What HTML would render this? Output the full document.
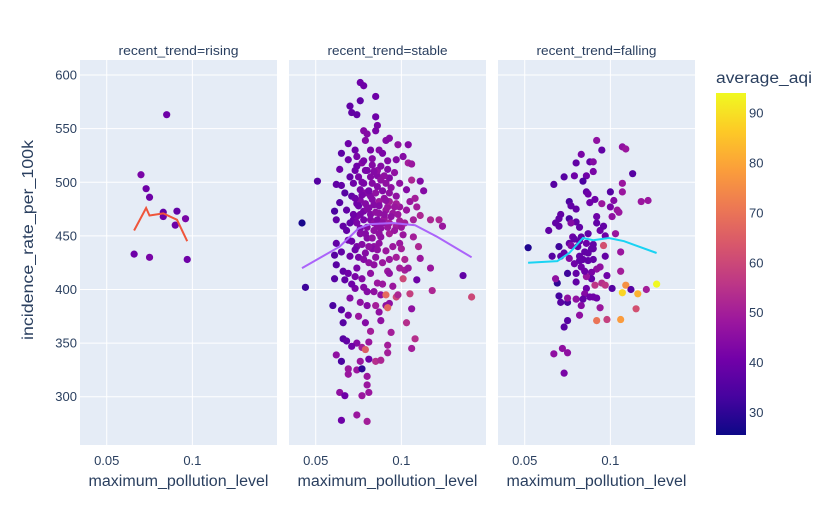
<!DOCTYPE html>
<html><head><meta charset="utf-8">
<style>
html,body{margin:0;padding:0;background:#fff;}
svg{display:block;font-family:"Liberation Sans",Arial,sans-serif;}
</style></head>
<body>
<svg id="chart" width="823" height="525" xmlns="http://www.w3.org/2000/svg">
<defs>
<linearGradient id="plasma" x1="0" y1="1" x2="0" y2="0">
<stop offset="0" stop-color="#0d0887"/><stop offset="0.111" stop-color="#46039f"/><stop offset="0.222" stop-color="#7201a8"/><stop offset="0.333" stop-color="#9c179e"/><stop offset="0.444" stop-color="#bd3786"/><stop offset="0.556" stop-color="#d8576b"/><stop offset="0.667" stop-color="#ed7953"/><stop offset="0.778" stop-color="#fb9f3a"/><stop offset="0.889" stop-color="#fdca26"/><stop offset="1" stop-color="#f0f921"/>
</linearGradient>
</defs>
</svg>
<script>
// ---- data ----
const panelTitles = ["recent_trend=rising","recent_trend=stable","recent_trend=falling"];
const yTicks = [300,350,400,450,500,550,600];
const xTicks = [0.05,0.1];
const xTickLabels = ["0.05","0.1"];
const cbTicks = [30,40,50,60,70,80,90];

const risingX = [.066,.070,.073,.075,.075,.085,.083,.083,.090,.091,.096,.097];
const risingY = [433,507,494,486,430,563,472,468,460,473,466,428];
const risingAqi = [40,42,40,40,42,40,38,40,40,38,42,40];
const risingLineX = [.066,.073,.075,.083,.091,.097];
const risingLineY = [455,476,469,471,465,445];

const stableX = [.076,.078,.085,.076,.070,.071,.074,.085,.086,.078,.085,.080,.069,.079,.091,.093,.098,.104,.065,.073,.082,.087,.089,.069,.101,.097,.104,.106,.064,.073,.080,.092,.096,.051,.062,.065,.072,.082,.086,.093,.099,.106,.111,.067,.076,.086,.093,.103,.113,.071,.082,.090,.097,.105,.108,.064,.074,.084,.092,.099,.109,.061,.068,.078,.087,.095,.103,.111,.062,.072,.082,.090,.099,.107,.117,.122,.124,.042,.066,.076,.086,.093,.101,.107,.110,.062,.069,.080,.088,.099,.084,.074,
.074,.077,.079,.083,.086,.075,.078,.083,.088,.091,.076,.079,.087,.093,.097,.081,.091,.074,.084,.093,.097,
.061,.065,.070,.062,.066,.074,.084,.092,.102,.104,.111,.117,.136,.044,.061,.067,.077,.086,.093,.101,.109,.073,.080,.088,.097,.105,.118,.141,.060,.070,.076,.080,.085,.093,.106,.065,.069,.075,.087,.066,.079,.088,.103,.082,.094,.066,.068,.074,.081,.092,.108,.106,.071,.077,.079,.092,.062,.065,.076,.081,.085,.088,.069,.074,.077,.069,.080,.080,.081,.064,.067,.077,.074,.065,.080,.091,.091,.098,.092,
.072,.074,.076,.078,.080,.082,.084,.086,.088,.090,.092,.094,.096,.098,.100,.102,
.073,.075,.077,.079,.081,.083,.085,.087,.089,.091,.094,.096,
.071,.073,.075,.077,.079,.081,.083,.085,.087,.089,.091,.093,.095,.097,.100,.102,
.068,.070,.069,.071,.073,.078,.082,.084,.089,.095,.099,
.070,.074,.078,.083,.088,.092,.077,.084,.090,
.076,.080,.085,.089,.079,.083,.087,.081,.086,.078];
const stableY = [593,590,580,576,571,565,563,561,553,548,548,545,536,539,539,541,535,535,527,530,530,530,527,521,524,521,518,517,512,511,511,512,509,501,498,497,499,505,506,504,499,502,501,490,493,496,490,493,492,487,487,485,487,482,485,481,480,479,477,477,477,473,474,473,471,471,474,469,465,465,465,466,464,465,465,465,459,462,459,457,459,452,451,449,440,443,446,448,449,443,440,440,
524,518,511,516,511,505,499,499,502,499,483,490,482,482,480,476,474,468,462,462,459,
432,435,431,423,417,420,423,417,418,420,429,420,413,402,410,409,410,406,415,410,409,401,398,395,393,396,399,393,385,392,388,385,385,387,382,381,376,375,379,369,369,371,369,361,360,354,352,350,351,348,354,345,347,346,344,341,339,333,333,335,333,334,326,325,326,321,319,311,304,304,301,301,283,278,277,395,385,395,383,
470,462,452,465,458,470,455,465,457,470,458,468,455,470,458,462,
485,478,488,480,492,484,490,478,492,483,495,477,
445,437,430,442,434,425,438,430,443,425,436,428,440,430,438,428,
455,462,415,405,412,402,415,398,405,403,420,
505,515,520,522,515,520,500,510,506,
470,475,472,462,452,448,452,440,437,428];
const stableAqi = [40,40,40,38,38,38,38,40,42,44,42,44,40,44,44,44,46,44,37,40,42,44,42,40,44,44,50,48,40,40,42,44,46,36,38,38,40,44,44,44,46,52,44,36,42,44,46,44,44,38,44,46,46,48,50,36,40,44,48,48,50,34,38,42,46,48,48,52,38,40,44,48,50,50,52,52,48,27,38,42,46,50,48,50,52,38,40,44,46,48,46,42,
42,44,42,44,46,42,42,44,46,46,44,44,48,50,50,44,48,42,46,50,50,
36,38,40,36,38,42,46,48,50,48,48,48,38,32,36,38,44,48,46,60,40,42,44,46,60,58,52,60,34,44,46,44,50,46,46,36,42,48,46,36,44,46,54,50,50,36,38,44,48,50,54,50,40,50,65,50,46,34,48,40,54,52,48,48,30,48,48,48,48,46,40,48,48,40,50,68,46,52,67,
40,42,44,42,44,44,46,44,46,46,48,46,48,48,48,50,
40,40,42,44,42,44,46,44,44,46,46,48,
40,40,42,44,44,46,44,46,46,48,48,48,48,50,50,52,
38,38,40,40,42,44,46,46,48,48,50,
38,40,42,44,44,44,42,44,46,
42,44,46,46,44,46,46,46,46,44];
const stableLineX = [.042,.064,.075,.082,.095,.108,.121,.141];
const stableLineY = [420,440,457,461,462,460,449,430];

const fallingX = [.052,.066,.070,.069,.070,.071,.075,.075,.075,.073,.072,.067,.075,.073,.067,.073,.079,.083,.080,.086,.084,.088,.090,.090,.092,.095,.107,.109,.113,.107,.107,.100,.102,.118,.122,.104,.105,.101,.100,.095,.091,.088,.086,.087,.076,.077,.080,.071,.070,.068,.070,.064,.076,.080,.077,.082,.092,.092,.094,.096,.097,.103,.087,.083,.078,.076,.077,.082,.086,.090,.089,.096,.106,.097,.090,.087,.084,.082,.082,.083,.080,.076,.073,.071,.092,.089,.098,.089,.080,.086,.086,.085,.084,.088,.090,.092,.080,.083,.082,.094,.092,.098,.106,.115,.101,.109,.107,.112,.116,.121,.127,.106,.095,.097,.091,.075,.068,.094,.079,.081,.085,.087,.090,.079,.085];
const fallingY = [439,431,440,406,394,388,388,415,371,365,345,340,341,322,498,505,506,526,518,506,501,519,519,510,539,530,533,531,508,499,491,491,483,482,483,474,472,468,477,480,484,481,491,489,482,478,475,470,466,462,459,455,466,463,462,458,468,462,455,459,450,452,452,449,449,443,441,445,443,442,438,441,435,431,428,427,428,431,427,421,415,429,434,431,419,416,413,410,407,412,401,396,391,393,393,392,391,385,376,383,371,372,372,382,401,404,397,400,396,400,405,417,406,404,404,392,410,421,447,440,435,434,438,424,417];
const fallingAqi = [28,36,32,30,33,36,34,32,36,36,46,46,46,42,36,36,40,42,38,40,34,38,44,42,46,38,46,48,36,48,48,36,44,48,48,48,48,46,42,48,40,40,38,40,34,38,38,38,38,38,38,38,34,38,44,38,40,38,40,38,40,48,38,38,40,38,44,38,40,38,38,62,48,38,38,38,38,38,38,40,38,44,38,38,46,42,40,38,38,48,40,44,38,40,40,40,46,44,46,48,70,58,78,62,36,76,88,36,82,50,94,50,54,56,56,46,46,46,38,38,38,38,38,40,40];
const fallingLineX = [.052,.069,.076,.084,.090,.099,.108,.127];
const fallingLineY = [425,426.5,434,448,446,448,445,434];

const panels = [
  {x:risingX,y:risingY,c:risingAqi,lx:risingLineX,ly:risingLineY,line:"#EF553B",left:80,name:"rising"},
  {x:stableX,y:stableY,c:stableAqi,lx:stableLineX,ly:stableLineY,line:"#AB63FA",left:289,name:"stable"},
  {x:fallingX,y:fallingY,c:fallingAqi,lx:fallingLineX,ly:fallingLineY,line:"#19D3F3",left:498,name:"falling"}
];

// ---- layout ----
const NS="http://www.w3.org/2000/svg";
const svg=document.getElementById("chart");
const W=197, TOP=60, BOT=445;
const X0=0.0344, X1=0.1494, Y0=255, Y1=614;
const CB={x:716,w:30,top:93,bot:435,min:25.5,max:94};
const plasma=["#0d0887","#46039f","#7201a8","#9c179e","#bd3786","#d8576b","#ed7953","#fb9f3a","#fdca26","#f0f921"];
function yS(v){return BOT-(v-Y0)/(Y1-Y0)*(BOT-TOP);}
function xS(p,v){return p.left+(v-X0)/(X1-X0)*W;}
function hex(h){return [1,3,5].map(i=>parseInt(h.substr(i,2),16));}
function col(v){let t=Math.max(0,Math.min(1,(v-CB.min)/(CB.max-CB.min)))*(plasma.length-1);let i=Math.min(Math.floor(t),plasma.length-2);let f=t-i;let a=hex(plasma[i]),b=hex(plasma[i+1]);return "rgb("+a.map((q,k)=>Math.round(q+(b[k]-q)*f)).join(",")+")";}
function mk(tag,attrs,parent){const e=document.createElementNS(NS,tag);for(const k in attrs)e.setAttribute(k,attrs[k]);(parent||svg).appendChild(e);return e;}

panels.forEach((p,pi)=>{
  const g=mk("g",{});
  
  
  const bg=mk("rect",{x:p.left,y:TOP,width:W,height:BOT-TOP,fill:"#E5ECF6"},g);
  
  
  yTicks.forEach(t=>{
    const l=mk("line",{x1:p.left,x2:p.left+W,y1:yS(t),y2:yS(t),stroke:"#fff","stroke-width":1},g);
    
    
    if(pi===0){
      const tx=mk("text",{x:p.left-3,y:yS(t)+4.5,"text-anchor":"end","font-size":13,fill:"#2a3f5f"},g);
      tx.textContent=t;
      
      
    }
  });
  xTicks.forEach((t,i)=>{
    const l=mk("line",{x1:xS(p,t),x2:xS(p,t),y1:TOP,y2:BOT,stroke:"#fff","stroke-width":1},g);
    
    
    const tx=mk("text",{x:xS(p,t),y:BOT+20,"text-anchor":"middle","font-size":13,fill:"#2a3f5f"},g);
    tx.textContent=xTickLabels[i];
    
    
  });
  const title=mk("text",{x:p.left+W/2,y:55,"text-anchor":"middle","font-size":12.5,fill:"#2a3f5f",textLength:120,lengthAdjust:"spacingAndGlyphs"},g);
  title.textContent=panelTitles[pi];
  
  
  const xt=mk("text",{x:p.left+W/2,y:486,"text-anchor":"middle","font-size":15.5,fill:"#2a3f5f",textLength:180,lengthAdjust:"spacingAndGlyphs"},g);
  xt.textContent="maximum_pollution_level";
  
  
  const n=Math.min(p.x.length,p.y.length,p.c.length);
  for(let i=0;i<n;i++){
    const c=mk("circle",{cx:xS(p,p.x[i]),cy:yS(p.y[i]),r:3.6,fill:col(p.c[i])},g);
    
    
  }
  const pts=p.lx.map((v,i)=>xS(p,v).toFixed(1)+","+yS(p.ly[i]).toFixed(1)).join(" ");
  const pl=mk("polyline",{points:pts,fill:"none",stroke:p.line,"stroke-width":2},g);
  
  
});

const yt=mk("text",{x:33,y:240,"text-anchor":"middle","font-size":15.5,fill:"#2a3f5f",transform:"rotate(-90 33 240)",textLength:200,lengthAdjust:"spacingAndGlyphs"});
yt.textContent="incidence_rate_per_100k";



const cbg=mk("g",{});


const cbr=mk("rect",{x:CB.x,y:CB.top,width:CB.w,height:CB.bot-CB.top,fill:"url(#plasma)"},cbg);


const cbt=mk("text",{x:716,y:83,"font-size":15.5,fill:"#2a3f5f",textLength:96,lengthAdjust:"spacingAndGlyphs"},cbg);
cbt.textContent="average_aqi";


cbTicks.forEach(t=>{
  const y=CB.bot-(t-CB.min)/(CB.max-CB.min)*(CB.bot-CB.top);
  const tx=mk("text",{x:749,y:y+4.5,"font-size":13,fill:"#2a3f5f"},cbg);
  tx.textContent=t;
  
  
});
</script>
</body></html>
